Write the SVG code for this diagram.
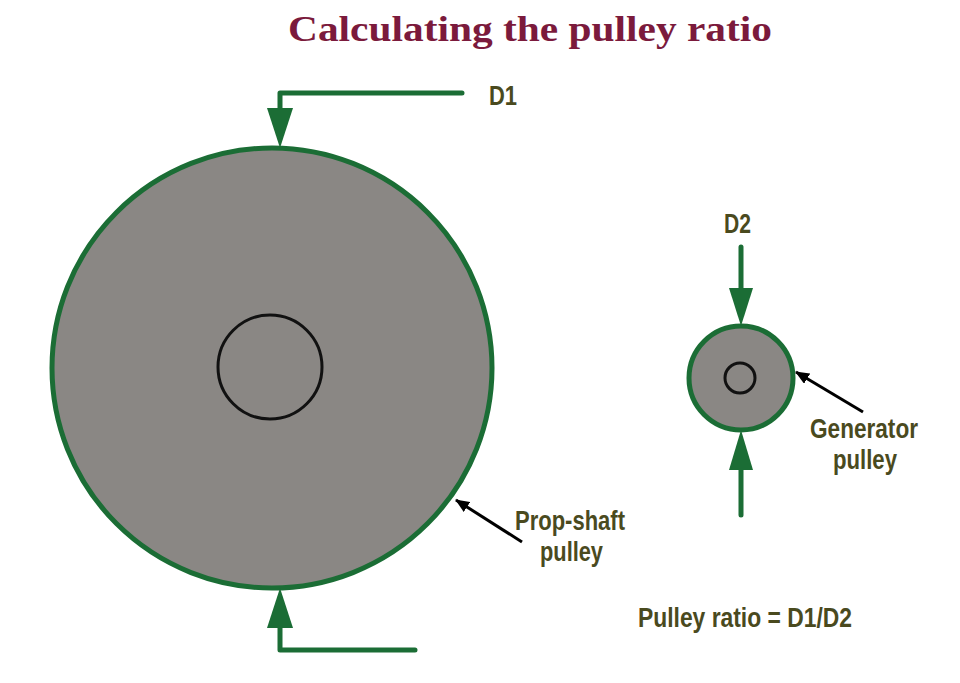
<svg xmlns="http://www.w3.org/2000/svg" width="960" height="683" viewBox="0 0 960 683">
<defs>
<style>
.lbl{font-family:"Liberation Sans",Arial,sans-serif;font-weight:bold;font-size:27px;fill:#4a4a1e}
.title{font-family:"Liberation Serif","Times New Roman",serif;font-weight:bold;font-size:36px;fill:#7b1a3c}
.grn{fill:none;stroke:#1b6d35;stroke-width:5;stroke-linecap:round;stroke-linejoin:round}
.head{fill:#1b6d35}
.ptr{stroke:#000;stroke-width:3;fill:none}
.pulley{fill:#8a8784;stroke:#1b6d35;stroke-width:5}
.hub{fill:none;stroke:#111;stroke-width:3}
</style>
<marker id="blk" viewBox="0 0 14 12" refX="13" refY="6" markerWidth="14" markerHeight="12" orient="auto" markerUnits="userSpaceOnUse">
<path d="M0,0 L14,6 L0,12 z" fill="#000"/>
</marker>
</defs>
<rect width="960" height="683" fill="#fff"/>
<text class="title" x="530" y="41" text-anchor="middle" textLength="484" lengthAdjust="spacingAndGlyphs">Calculating the pulley ratio</text>

<g id="prop-shaft-pulley">
<circle class="pulley" cx="272" cy="368" r="220"/>
<circle class="hub" cx="270" cy="367" r="52"/>
</g>
<g id="generator-pulley">
<circle class="pulley" cx="741" cy="378" r="52"/>
<circle class="hub" cx="740" cy="378" r="15" stroke-width="2"/>
</g>

<g id="connectors">
<path class="grn" d="M462,93 H280 V112"/>
<path class="head" d="M267,108 L293,108 L280,148 z"/>
<path class="grn" d="M415,650 H280 V625"/>
<path class="head" d="M267,628 L293,628 L280,588 z"/>
<path class="grn" d="M741,247 V292"/>
<path class="head" d="M729,288 L753,288 L741,326 z"/>
<path class="grn" d="M741,515 V468"/>
<path class="head" d="M729,470 L753,470 L741,430 z"/>
<line class="ptr" x1="863" y1="412" x2="796" y2="372" marker-end="url(#blk)"/>
<line class="ptr" x1="522" y1="542" x2="456" y2="500" marker-end="url(#blk)"/>
</g>

<g id="labels">
<text class="lbl" x="489" y="105" textLength="28" lengthAdjust="spacingAndGlyphs">D1</text>
<text class="lbl" x="724" y="233" textLength="27" lengthAdjust="spacingAndGlyphs">D2</text>
<text class="lbl" x="810" y="438" textLength="108" lengthAdjust="spacingAndGlyphs">Generator</text>
<text class="lbl" x="833" y="469" textLength="64" lengthAdjust="spacingAndGlyphs">pulley</text>
<text class="lbl" x="515" y="530" textLength="110" lengthAdjust="spacingAndGlyphs">Prop-shaft</text>
<text class="lbl" x="540" y="561" textLength="63" lengthAdjust="spacingAndGlyphs">pulley</text>
<text class="lbl" x="638" y="627" textLength="214" lengthAdjust="spacingAndGlyphs">Pulley ratio = D1/D2</text>
</g>
</svg>
